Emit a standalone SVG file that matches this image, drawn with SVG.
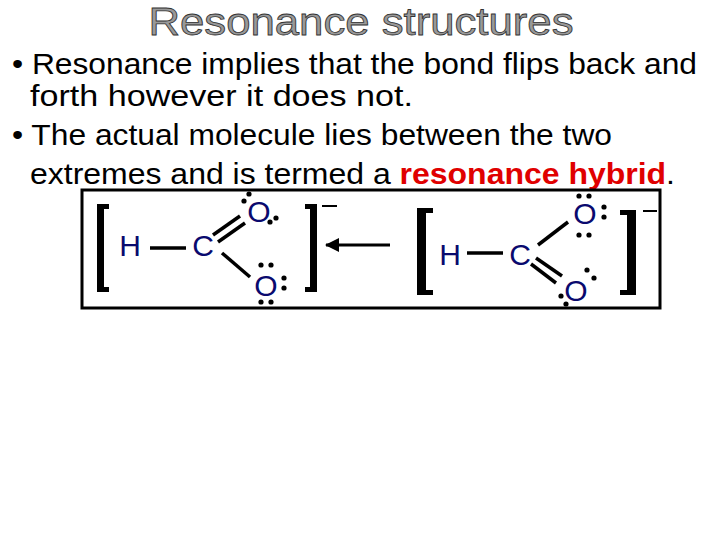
<svg xmlns="http://www.w3.org/2000/svg" width="720" height="540" viewBox="0 0 720 540">
<style>
text{font-family:"Liberation Sans",Arial,sans-serif}
.b{font-size:29px;fill:#000}
.at{font-size:30px;fill:#0a0a6e}
.bd{stroke:#000;stroke-width:3.5}
.br{fill:#000}
.d{fill:#000}
</style>
<defs><marker id="ah" markerUnits="userSpaceOnUse" markerWidth="14" markerHeight="14" refX="13" refY="7" orient="auto"><path d="M0,0 L14,7 L0,14 Z" fill="#000"/></marker></defs>
<rect width="720" height="540" fill="#fff"/>
<text x="361" y="35" font-size="38" text-anchor="middle" fill="#999" stroke="#333" stroke-width="0.8" textLength="425" lengthAdjust="spacingAndGlyphs">Resonance structures</text>
<text class="b" x="12" y="74" textLength="685" lengthAdjust="spacingAndGlyphs">• Resonance implies that the bond flips back and</text>
<text class="b" x="30" y="106" textLength="383" lengthAdjust="spacingAndGlyphs">forth however it does not.</text>
<text class="b" x="12" y="145" textLength="600" lengthAdjust="spacingAndGlyphs">• The actual molecule lies between the two</text>
<text class="b" x="30" y="184" textLength="645" lengthAdjust="spacingAndGlyphs">extremes and is termed a <tspan fill="#e00000" font-weight="bold">resonance hybrid</tspan>.</text>
<rect x="82" y="190" width="578" height="118" fill="none" stroke="#000" stroke-width="3"/>
<g id="mol1">
<path class="br" d="M97,204h12v5h-5v78h5v5h-12z"/>
<text class="at" x="130" y="256" text-anchor="middle">H</text>
<line class="bd" x1="150" y1="248" x2="186" y2="248"/>
<text class="at" x="203" y="256" text-anchor="middle">C</text>
<line class="bd" x1="213" y1="235" x2="240" y2="216"/>
<line class="bd" x1="218" y1="242" x2="245" y2="223"/>
<text class="at" x="259" y="222" text-anchor="middle">O</text>
<line class="bd" x1="222" y1="253" x2="250" y2="277"/>
<text class="at" x="266" y="296" text-anchor="middle">O</text>
<g class="d"><circle cx="249" cy="194" r="2.6"/><circle cx="244" cy="201" r="2.6"/><circle cx="270" cy="222" r="2.6"/><circle cx="276" cy="218" r="2.6"/>
<circle cx="261" cy="265" r="2.6"/><circle cx="271" cy="265" r="2.6"/><circle cx="284" cy="278" r="2.6"/><circle cx="284" cy="288" r="2.6"/><circle cx="261" cy="302" r="2.6"/><circle cx="271" cy="302" r="2.6"/></g>
<path class="br" d="M317,204h-12v5h5v78h-5v5h12z"/>
<line x1="322" y1="206" x2="337" y2="206" stroke="#000" stroke-width="2"/>
</g>
<g id="connectors">
<line x1="390" y1="245" x2="326" y2="245" stroke="#000" stroke-width="3" marker-end="url(#ah)"/>
</g>
<g id="mol2">
<path class="br" d="M417,208h16v5h-7v77h7v5h-16z"/>
<text class="at" x="450" y="265" text-anchor="middle">H</text>
<line class="bd" x1="467" y1="253" x2="503" y2="253"/>
<text class="at" x="520" y="265" text-anchor="middle">C</text>
<line class="bd" x1="538" y1="245" x2="568" y2="222"/>
<text class="at" x="585" y="224" text-anchor="middle">O</text>
<line class="bd" x1="531" y1="264" x2="556" y2="283"/>
<line class="bd" x1="536" y1="258" x2="562" y2="276"/>
<text class="at" x="576" y="301" text-anchor="middle">O</text>
<g class="d"><circle cx="579" cy="196" r="2.6"/><circle cx="589" cy="196" r="2.6"/><circle cx="604" cy="207" r="2.6"/><circle cx="604" cy="217" r="2.6"/><circle cx="579" cy="235" r="2.6"/><circle cx="589" cy="235" r="2.6"/>
<circle cx="587" cy="270" r="2.6"/><circle cx="594" cy="278" r="2.6"/><circle cx="561" cy="296" r="2.6"/><circle cx="566" cy="304" r="2.6"/></g>
<path class="br" d="M620,210h16v85h-16v-5h7v-75h-7z"/>
<line x1="643" y1="211" x2="657" y2="211" stroke="#000" stroke-width="2"/>
</g>
</svg>
